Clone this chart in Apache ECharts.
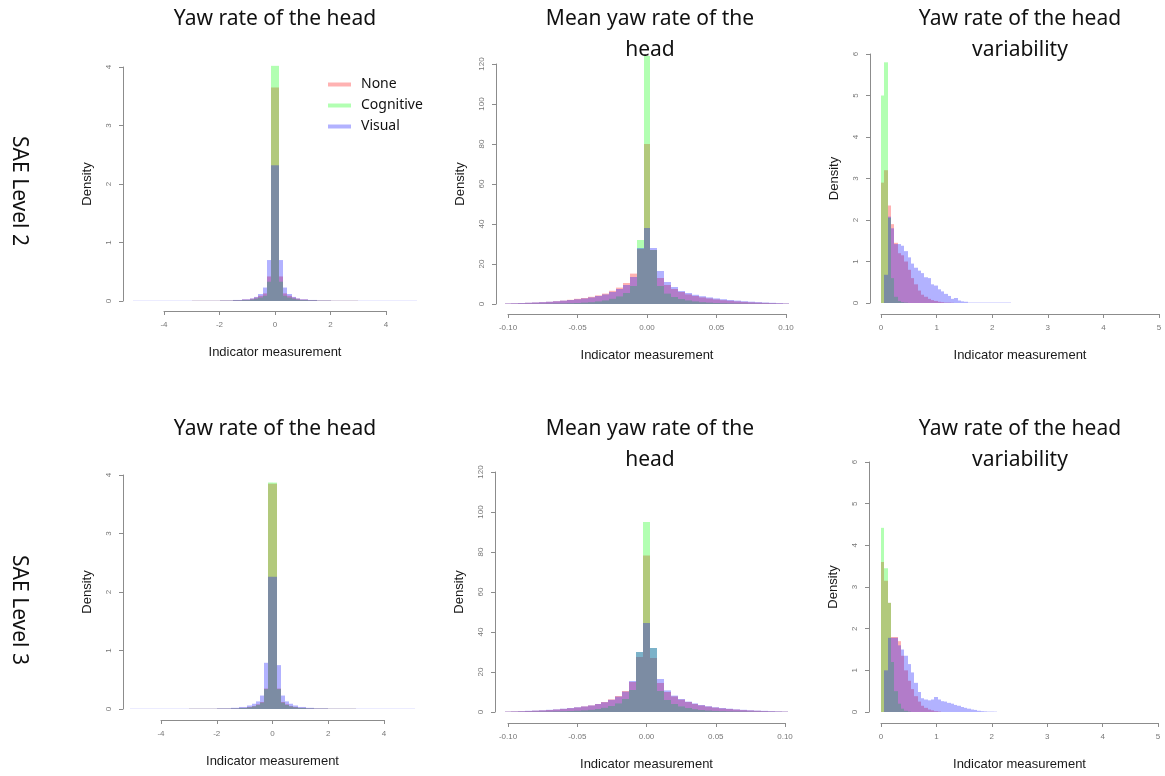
<!DOCTYPE html>
<html>
<head>
<meta charset="utf-8">
<script src="https://cdn.jsdelivr.net/npm/echarts@6/dist/echarts.min.js"></script>
<style>
  html, body { margin: 0; padding: 0; background: #ffffff; }
  #chart { width: 1165px; height: 776px; }
</style>
</head>
<body>
<div id="chart"></div>
<script>
// Distraction conditions and their translucent fills
const conditions = ['None', 'Cognitive', 'Visual'];
const conditionColors = ['rgba(255,0,0,0.3)', 'rgba(0,255,0,0.3)', 'rgba(0,0,255,0.3)'];

const rowLabels = ['SAE Level 2', 'SAE Level 3'];
const columnTitles = ['Yaw rate of the head', 'Mean yaw rate of the\nhead', 'Yaw rate of the head\nvariability'];
const xAxisName = 'Indicator measurement';
const yAxisName = 'Density';

// Yaw rate of the head: bin edges (finer around zero)
const yawEdges = [-5.1, -3, -2, -1.5, -1.2, -0.9, -0.75, -0.6, -0.45, -0.3, -0.15, 0,
                  0.15, 0.3, 0.45, 0.6, 0.75, 0.9, 1.2, 1.5, 2, 3, 5.1];
const yawL2None      = [0.002, 0.004, 0.008, 0.015, 0.025, 0.04, 0.06, 0.09, 0.13, 0.42, 3.65, 3.65, 0.42, 0.13, 0.09, 0.06, 0.04, 0.025, 0.015, 0.008, 0.004, 0.002];
const yawL2Cognitive = [0.001, 0.002, 0.005, 0.01, 0.015, 0.025, 0.04, 0.06, 0.09, 0.33, 4.02, 4.02, 0.33, 0.09, 0.06, 0.04, 0.025, 0.015, 0.01, 0.005, 0.002, 0.001];
const yawL2Visual    = [0.003, 0.005, 0.01, 0.018, 0.03, 0.045, 0.07, 0.12, 0.23, 0.70, 2.32, 2.32, 0.70, 0.23, 0.12, 0.07, 0.045, 0.03, 0.018, 0.01, 0.005, 0.003];
const yawL3None      = [0.002, 0.004, 0.008, 0.012, 0.02, 0.035, 0.05, 0.08, 0.12, 0.35, 3.85, 3.85, 0.35, 0.12, 0.08, 0.05, 0.035, 0.02, 0.012, 0.008, 0.004, 0.002];
const yawL3Cognitive = [0.001, 0.003, 0.006, 0.01, 0.018, 0.03, 0.045, 0.07, 0.11, 0.34, 3.87, 3.87, 0.34, 0.11, 0.07, 0.045, 0.03, 0.018, 0.01, 0.006, 0.003, 0.001];
const yawL3Visual    = [0.003, 0.006, 0.012, 0.02, 0.035, 0.06, 0.09, 0.13, 0.23, 0.79, 2.26, 2.26, 0.75, 0.23, 0.13, 0.09, 0.06, 0.035, 0.02, 0.012, 0.006, 0.003];

// Mean yaw rate of the head: 41 bins of width 0.005 centred on multiples of 0.005
const meanYawBinStart = -0.1025;
const meanYawBinWidth = 0.005;
const meanL2None      = [0.25, 0.35, 0.45, 0.6, 0.75, 0.9, 1.1, 1.4, 1.7, 2.1, 2.6, 3.0, 3.6, 4.3, 5.2, 6.6, 8.2, 10.5, 15.2, 27.5, 80, 27, 13, 9.5, 7.5, 6, 4.8, 4, 3.3, 2.8, 2.3, 1.9, 1.6, 1.3, 1.05, 0.85, 0.7, 0.55, 0.42, 0.32, 0.22];
const meanL2Cognitive = [0.05, 0.05, 0.08, 0.1, 0.12, 0.15, 0.2, 0.25, 0.3, 0.4, 0.5, 0.7, 0.9, 1.3, 1.8, 2.6, 3.8, 5.5, 9, 32, 124, 27, 9, 5.2, 3.5, 2.5, 1.8, 1.3, 0.9, 0.7, 0.5, 0.4, 0.3, 0.25, 0.2, 0.15, 0.12, 0.1, 0.08, 0.05, 0.05];
const meanL2Visual    = [0.3, 0.4, 0.5, 0.65, 0.8, 0.95, 1.15, 1.4, 1.7, 2.0, 2.4, 2.8, 3.3, 4.0, 4.8, 6.0, 7.5, 9.5, 13.5, 28, 38, 28, 16.5, 11, 8.5, 6.5, 5.5, 4.6, 3.9, 3.3, 2.8, 2.4, 2.0, 1.7, 1.4, 1.15, 0.95, 0.75, 0.6, 0.45, 0.3];
const meanL3None      = [0.2, 0.3, 0.4, 0.5, 0.65, 0.8, 1.0, 1.25, 1.55, 1.9, 2.3, 2.8, 3.3, 4.0, 5.0, 6.3, 8.0, 10.5, 15, 27.5, 78.3, 27, 14.5, 10, 7.8, 6.2, 5.0, 4.0, 3.3, 2.7, 2.2, 1.8, 1.5, 1.2, 0.95, 0.75, 0.6, 0.45, 0.35, 0.25, 0.18];
const meanL3Cognitive = [0.05, 0.06, 0.08, 0.1, 0.13, 0.17, 0.22, 0.3, 0.4, 0.5, 0.65, 0.85, 1.1, 1.5, 2.1, 3.0, 4.3, 6.5, 11, 30, 95, 32, 10.5, 6, 4, 2.8, 2, 1.4, 1, 0.75, 0.55, 0.42, 0.32, 0.25, 0.2, 0.15, 0.12, 0.1, 0.08, 0.06, 0.05];
const meanL3Visual    = [0.25, 0.35, 0.45, 0.6, 0.75, 0.9, 1.1, 1.35, 1.65, 2.0, 2.4, 2.8, 3.3, 4.0, 4.9, 6.1, 7.7, 10.2, 15.5, 30, 44.5, 32, 16.5, 10.8, 8.2, 6.5, 5.2, 4.3, 3.5, 2.9, 2.4, 2.0, 1.65, 1.35, 1.1, 0.9, 0.72, 0.58, 0.45, 0.35, 0.25];

// Yaw rate of the head variability: 40 bins of width 0.06 from 0
const varBinStart = 0;
const varBinWidth = 0.06;
const varL2None      = [2.9, 3.2, 2.35, 1.9, 1.45, 1.2, 1.15, 1.0, 0.8, 0.6, 0.45, 0.3, 0.2, 0.15, 0.1, 0.07, 0.05, 0.03, 0.02, 0.01, 0.01, 0.005, 0, 0, 0, 0, 0, 0, 0, 0, 0, 0, 0, 0, 0, 0, 0, 0, 0, 0];
const varL2Cognitive = [5.0, 5.8, 2.05, 0.6, 0.15, 0.05, 0.02, 0.01, 0, 0, 0, 0, 0, 0, 0, 0, 0, 0, 0, 0, 0, 0, 0, 0, 0, 0, 0, 0, 0, 0, 0, 0, 0, 0, 0, 0, 0, 0, 0, 0];
const varL2Visual    = [0, 0.68, 2.08, 1.8, 1.42, 1.42, 1.38, 1.25, 1.1, 0.95, 0.85, 0.78, 0.72, 0.62, 0.6, 0.45, 0.42, 0.33, 0.28, 0.22, 0.17, 0.1, 0.12, 0.06, 0.04, 0.03, 0.01, 0.01, 0.01, 0.01, 0.01, 0.01, 0.01, 0.01, 0.01, 0.01, 0.01, 0.01, 0.01, 0];
const varL3None      = [3.6, 3.15, 2.62, 1.8, 1.8, 1.7, 1.35, 1.0, 0.75, 0.55, 0.38, 0.25, 0.15, 0.1, 0.06, 0.04, 0.02, 0.01, 0, 0, 0, 0, 0, 0, 0, 0, 0, 0, 0, 0, 0, 0, 0, 0, 0, 0, 0, 0, 0, 0];
const varL3Cognitive = [4.42, 3.45, 2.62, 1.2, 0.5, 0.2, 0.08, 0.03, 0.01, 0, 0, 0, 0, 0, 0, 0, 0, 0, 0, 0, 0, 0, 0, 0, 0, 0, 0, 0, 0, 0, 0, 0, 0, 0, 0, 0, 0, 0, 0, 0];
const varL3Visual    = [0, 1.0, 1.78, 1.78, 1.78, 1.6, 1.5, 1.35, 1.15, 0.95, 0.7, 0.48, 0.33, 0.3, 0.28, 0.3, 0.36, 0.3, 0.26, 0.25, 0.22, 0.2, 0.17, 0.15, 0.12, 0.1, 0.08, 0.06, 0.05, 0.03, 0.02, 0.015, 0.01, 0.01, 0.008, 0, 0, 0, 0, 0];

// Bin edges for equal-width histograms
function uniformEdges(start, width, count) {
  const edges = [];
  for (let i = 0; i <= count; i++) edges.push(+(start + i * width).toFixed(6));
  return edges;
}
const meanYawEdges = uniformEdges(meanYawBinStart, meanYawBinWidth, meanL2None.length);
const varEdges = uniformEdges(varBinStart, varBinWidth, varL2None.length);

// Panel layout: plotting box, axis offsets and scales
const panels = [
  { grid: { left: 164, top: 67, width: 222, height: 234 }, xOff: 10, yOff: 41,
    x: [-4, 4, 2], y: [0, 4, 1], edges: yawEdges, values: [yawL2None, yawL2Cognitive, yawL2Visual], dec: 0 },
  { grid: { left: 508, top: 64, width: 278, height: 240 }, xOff: 10, yOff: 12,
    x: [-0.1, 0.1, 0.05], y: [0, 120, 20], edges: meanYawEdges, values: [meanL2None, meanL2Cognitive, meanL2Visual], dec: 2 },
  { grid: { left: 881, top: 54, width: 278, height: 249 }, xOff: 11, yOff: 11,
    x: [0, 5, 1], y: [0, 6, 1], edges: varEdges, values: [varL2None, varL2Cognitive, varL2Visual], dec: 0 },
  { grid: { left: 161, top: 475, width: 223, height: 234 }, xOff: 11, yOff: 38,
    x: [-4, 4, 2], y: [0, 4, 1], edges: yawEdges, values: [yawL3None, yawL3Cognitive, yawL3Visual], dec: 0 },
  { grid: { left: 508, top: 472, width: 277, height: 240 }, xOff: 11, yOff: 13,
    x: [-0.1, 0.1, 0.05], y: [0, 120, 20], edges: meanYawEdges, values: [meanL3None, meanL3Cognitive, meanL3Visual], dec: 2 },
  { grid: { left: 881, top: 462, width: 277, height: 250 }, xOff: 11, yOff: 12,
    x: [0, 5, 1], y: [0, 6, 1], edges: varEdges, values: [varL3None, varL3Cognitive, varL3Visual], dec: 0 }
];

const axisGray = '#8c8c8c';
const tickLabelStyle = { fontSize: 8, color: '#777777', fontFamily: 'Liberation Sans' };

const grids = [], xAxes = [], yAxes = [], series = [];

panels.forEach((p, idx) => {
  grids.push(Object.assign({ containLabel: false }, p.grid));
  xAxes.push({
    type: 'value', gridIndex: idx, min: p.x[0], max: p.x[1], interval: p.x[2],
    position: 'bottom', offset: p.xOff,
    name: xAxisName, nameLocation: 'middle', nameGap: 35,
    nameTextStyle: { fontSize: 13, color: '#1a1a1a', fontFamily: 'Liberation Sans' },
    axisLine: { show: true, onZero: false, lineStyle: { color: axisGray, width: 1 } },
    axisTick: { show: true, length: 4, lineStyle: { color: axisGray } },
    axisLabel: Object.assign({ margin: 10, formatter: v => v.toFixed(p.dec) }, tickLabelStyle),
    splitLine: { show: false }
  });
  yAxes.push({
    type: 'value', gridIndex: idx, min: p.y[0], max: p.y[1], interval: p.y[2],
    position: 'left', offset: p.yOff,
    name: yAxisName, nameLocation: 'middle', nameGap: 29,
    nameTextStyle: { fontSize: 13, color: '#1a1a1a', fontFamily: 'Liberation Sans' },
    axisLine: { show: true, onZero: false, lineStyle: { color: axisGray, width: 1 } },
    axisTick: { show: true, length: 4, lineStyle: { color: axisGray } },
    axisLabel: Object.assign({ margin: 10, rotate: 90 }, tickLabelStyle),
    splitLine: { show: false }
  });
  conditions.forEach((cond, ci) => {
    const heights = p.values[ci];
    const data = heights.map((h, i) => [p.edges[i], p.edges[i + 1], h]);
    const color = conditionColors[ci];
    series.push({
      type: 'custom', name: cond, xAxisIndex: idx, yAxisIndex: idx,
      clip: false, silent: true, animation: false,
      itemStyle: { color: color },
      encode: { x: [0, 1], y: 2 },
      data: data,
      renderItem: function (params, api) {
        const h = api.value(2);
        if (!(h > 0)) return null;
        const base = api.coord([api.value(0), 0]);
        const top = api.coord([api.value(1), h]);
        // snap bin edges to whole pixels so neighbouring bins meet without seams
        const x0 = Math.round(base[0]), x1 = Math.round(top[0]);
        if (x1 <= x0) return null;
        return {
          type: 'rect',
          shape: { x: x0, y: top[1], width: x1 - x0, height: base[1] - top[1] },
          style: { fill: color }
        };
      }
    });
  });
});

// Column titles and row labels
const titleFont = 'Noto Sans';
const graphics = [];
const titleCentres = [275, 650, 1020];
const rowTitleTop = [4, 414];
rowTitleTop.forEach(top => {
  columnTitles.forEach((t, ci) => {
    graphics.push({
      type: 'text', x: titleCentres[ci], y: top, silent: true,
      style: { text: t, fontSize: 21, fontFamily: titleFont, fill: '#111111',
               textAlign: 'center', textVerticalAlign: 'top', lineHeight: 31 }
    });
  });
});
const rowLabelCentres = [191, 610];
rowLabels.forEach((t, ri) => {
  graphics.push({
    type: 'text', x: 19, y: rowLabelCentres[ri], rotation: -Math.PI / 2, silent: true,
    style: { text: t, fontSize: 21, fontFamily: titleFont, fill: '#111111',
             textAlign: 'center', textVerticalAlign: 'middle' }
  });
});

const chart = echarts.init(document.getElementById('chart'), null, { renderer: 'canvas' });
chart.setOption({
  animation: false,
  backgroundColor: '#ffffff',
  textStyle: { fontFamily: 'Liberation Sans' },
  grid: grids,
  xAxis: xAxes,
  yAxis: yAxes,
  legend: {
    data: conditions, orient: 'vertical', left: 328, top: 77, padding: 0,
    icon: 'rect', itemWidth: 23, itemHeight: 4, itemGap: 6, selectedMode: false,
    textStyle: { fontSize: 14, fontFamily: titleFont, color: '#111111', lineHeight: 15, padding: [0, 0, 0, 5] }
  },
  graphic: graphics,
  series: series
});
</script>
</body>
</html>
